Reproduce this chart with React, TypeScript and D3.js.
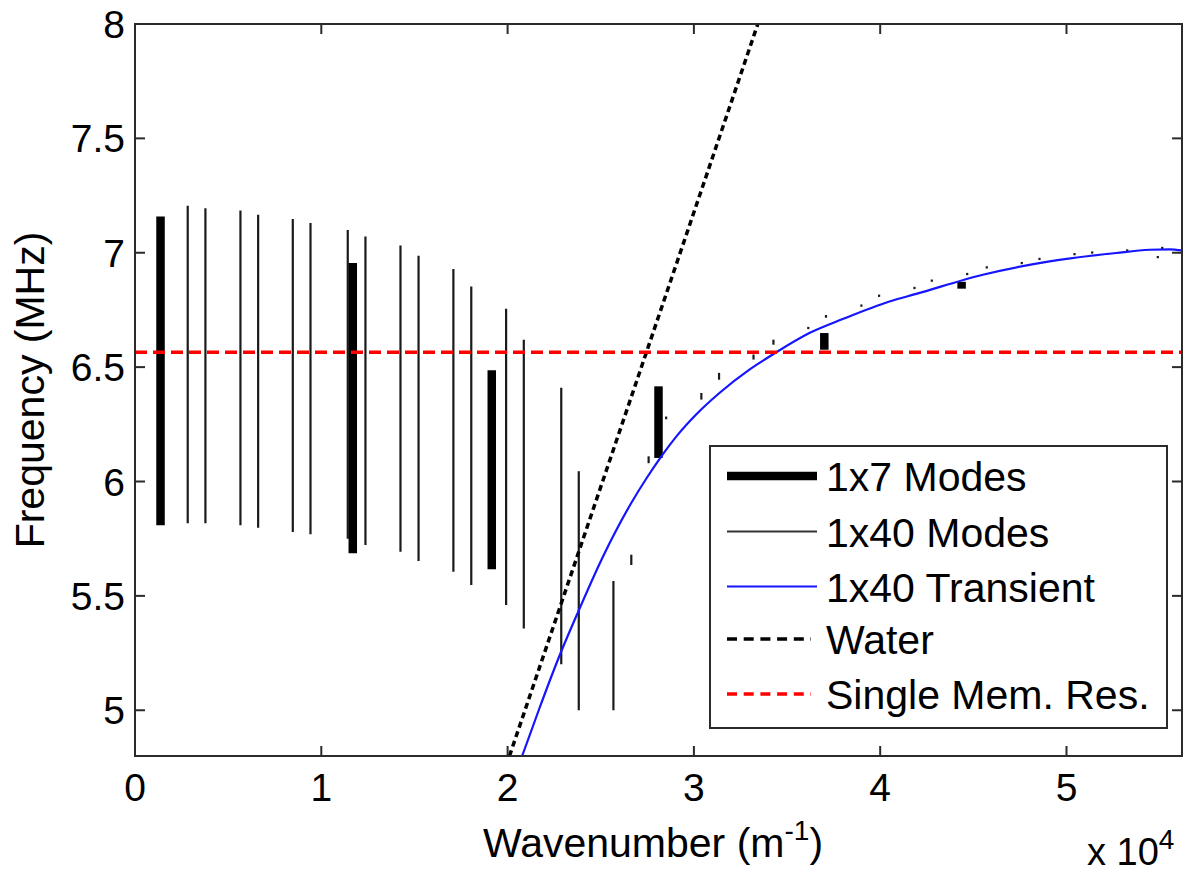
import React from "react";
import * as d3 from "d3";

// x values are in units of 1e4 m^-1, frequencies in MHz
const modes7K = [0.137, 1.169, 1.915, 2.81, 3.70, 4.437];
const modes7Low = [5.809, 5.686, 5.616, 6.103, 6.576, 6.843];
const modes7High = [7.158, 6.955, 6.486, 6.416, 6.649, 6.873];

const modes40K = [0.283, 0.378, 0.566, 0.661, 0.847, 0.942, 1.142, 1.237, 1.425, 1.522, 1.709, 1.805, 1.992, 2.087, 2.288, 2.382, 2.568, 2.664, 2.757, 2.851, 3.04, 3.135, 3.32, 3.427, 3.614, 3.709, 3.899, 3.994, 4.184, 4.277, 4.467, 4.572, 4.76, 4.855, 5.043, 5.138, 5.326, 5.49, 5.514];
const modes40Low = [5.817, 5.817, 5.809, 5.798, 5.779, 5.769, 5.750, 5.722, 5.693, 5.652, 5.606, 5.547, 5.460, 5.357, 5.201, 5.0, 5.0, 5.635, 6.08, 6.272, 6.358, 6.445, 6.533, 6.598, 6.666, 6.716, 6.764, 6.807, 6.841, 6.873, 6.902, 6.931, 6.950, 6.968, 6.989, 6.996, 7.005, 6.976, 7.016];
const modes40High = [7.205, 7.195, 7.185, 7.166, 7.148, 7.130, 7.100, 7.071, 7.032, 6.987, 6.929, 6.853, 6.755, 6.620, 6.410, 6.045, 5.565, 5.68, 6.11, 6.284, 6.387, 6.475, 6.555, 6.62, 6.676, 6.728, 6.774, 6.817, 6.851, 6.883, 6.912, 6.941, 6.960, 6.978, 6.999, 7.006, 7.015, 6.986, 7.026];

const transientK = [2.078, 2.167, 2.278, 2.377, 2.511, 2.663, 2.744, 2.815, 2.914, 3.012, 3.137, 3.298, 3.423, 3.62, 3.799, 4.05, 4.193, 4.551, 4.909, 5.267, 5.446, 5.553, 5.62];
const transientF = [4.8, 5.0, 5.237, 5.427, 5.67, 5.905, 6.012, 6.098, 6.205, 6.293, 6.387, 6.489, 6.555, 6.649, 6.71, 6.787, 6.82, 6.904, 6.962, 6.999, 7.013, 7.015, 7.01];

const waterK = [2.01, 3.343];
const waterF = [4.8, 8.0];

const singleMemRes = 6.565;

const xTicks = [0, 1, 2, 3, 4, 5];
const xTickLabels = ["0", "1", "2", "3", "4", "5"];
const yTicks = [5, 5.5, 6, 6.5, 7, 7.5, 8];
const yTickLabels = ["5", "5.5", "6", "6.5", "7", "7.5", "8"];

const legendLabels = ["1x7 Modes", "1x40 Modes", "1x40 Transient", "Water", "Single Mem. Res."];

const FONT = "'Liberation Sans', Arial, Helvetica, sans-serif";

export default function App() {
  const left = 135, right = 1182, top = 24, bottom = 756;
  const x = d3.scaleLinear().domain([0, 5.62]).range([left, right]);
  const y = d3.scaleLinear().domain([4.8, 8]).range([bottom, top]);

  const line = d3.line<[number, number]>().x((d) => x(d[0])).y((d) => y(d[1]));
  const transientPath = d3
    .line<[number, number]>()
    .x((d) => x(d[0]))
    .y((d) => y(d[1]))
    .curve(d3.curveMonotoneX)(transientK.map((k, i) => [k, transientF[i]] as [number, number]));
  const waterPath = line(waterK.map((k, i) => [k, waterF[i]] as [number, number]));

  const axisColor = "#2b2b2b";
  const tickLen = 10;

  const legX = 710, legY = 446, legW = 457, legH = 282;
  const legRows = [476, 531.5, 586.5, 639, 694];
  const lx1 = 727, lx2 = 817, tx = 826;

  return (
    <svg width={1188} height={873} style={{ position: "absolute", left: 0, top: 0, background: "#fff" }} fontFamily={FONT}>
      <defs>
        <clipPath id="plotClip">
          <rect x={left} y={top} width={right - left} height={bottom - top} />
        </clipPath>
      </defs>
      <rect x={0} y={0} width={1188} height={873} fill="#fff" />

      <g clipPath="url(#plotClip)">
        {modes40K.map((k, i) => (
          <line key={"m40" + i} x1={x(k)} x2={x(k)} y1={y(modes40Low[i])} y2={y(modes40High[i])} stroke="#1a1a1a" strokeWidth={2.2} />
        ))}
        {modes7K.map((k, i) => (
          <line key={"m7" + i} x1={x(k)} x2={x(k)} y1={y(modes7Low[i])} y2={y(modes7High[i])} stroke="#000" strokeWidth={8.5} />
        ))}
        <path d={transientPath || ""} fill="none" stroke="#1515ff" strokeWidth={2.2} />
        <path d={waterPath || ""} fill="none" stroke="#000" strokeWidth={3.5} strokeDasharray="6,4" />
        <line x1={left} x2={right} y1={y(singleMemRes)} y2={y(singleMemRes)} stroke="#ff0000" strokeWidth={3.5} strokeDasharray="12,6" />
      </g>

      {/* axes box */}
      <rect x={left} y={top} width={right - left} height={bottom - top} fill="none" stroke={axisColor} strokeWidth={2} />
      {xTicks.map((t, i) => (
        <g key={"xt" + i}>
          <line x1={x(t)} x2={x(t)} y1={bottom} y2={bottom - tickLen} stroke={axisColor} strokeWidth={2} />
          <line x1={x(t)} x2={x(t)} y1={top} y2={top + tickLen} stroke={axisColor} strokeWidth={2} />
          <text x={x(t)} y={801} textAnchor="middle" fontSize={39} fill="#000">{xTickLabels[i]}</text>
        </g>
      ))}
      {yTicks.map((t, i) => (
        <g key={"yt" + i}>
          <line x1={left} x2={left + tickLen} y1={y(t)} y2={y(t)} stroke={axisColor} strokeWidth={2} />
          <line x1={right} x2={right - tickLen} y1={y(t)} y2={y(t)} stroke={axisColor} strokeWidth={2} />
          <text x={125} y={y(t)} dy="0.36em" textAnchor="end" fontSize={39} fill="#000">{yTickLabels[i]}</text>
        </g>
      ))}

      <text x={653} y={857} textAnchor="middle" fontSize={41} fill="#000">
        Wavenumber (m<tspan dy={-17} fontSize={28}>-1</tspan><tspan dy={17}>)</tspan>
      </text>
      <text x={1087} y={865} fontSize={38} fill="#000">
        x 10<tspan dy={-16} fontSize={28}>4</tspan>
      </text>
      <text transform={`translate(44, ${(top + bottom) / 2}) rotate(-90)`} textAnchor="middle" fontSize={41} fill="#000">
        Frequency (MHz)
      </text>

      {/* legend */}
      <rect x={legX} y={legY} width={legW} height={legH} fill="#fff" stroke={axisColor} strokeWidth={2} />
      <line x1={lx1} x2={lx2} y1={legRows[0]} y2={legRows[0]} stroke="#000" strokeWidth={8.5} />
      <line x1={lx1} x2={lx2} y1={legRows[1]} y2={legRows[1]} stroke="#333" strokeWidth={2} />
      <line x1={lx1} x2={lx2} y1={legRows[2]} y2={legRows[2]} stroke="#1515ff" strokeWidth={2} />
      <line x1={lx1} x2={lx2 - 6} y1={legRows[3]} y2={legRows[3]} stroke="#000" strokeWidth={3.5} strokeDasharray="10,6.7" />
      <line x1={lx1} x2={lx2 - 6} y1={legRows[4]} y2={legRows[4]} stroke="#ff0000" strokeWidth={3.5} strokeDasharray="10,6.7" />
      {legendLabels.map((l, i) => (
        <text key={"lg" + i} x={tx} y={legRows[i] + 15} fontSize={41} fill="#000">{l}</text>
      ))}
    </svg>
  );
}
